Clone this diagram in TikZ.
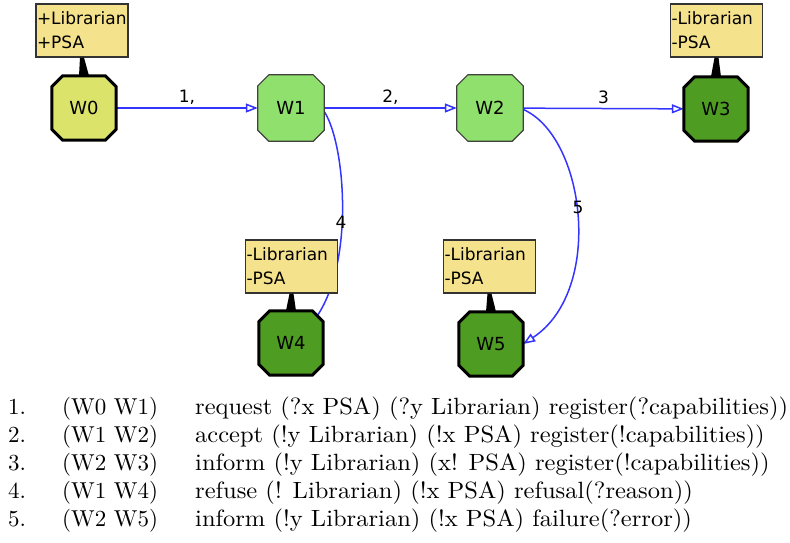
\documentclass[tikz,border=0pt]{standalone}
\usepackage{fontspec}
\newfontfamily\uifont{DejaVu Sans}
\usetikzlibrary{arrows.meta,calc}
\pgfdeclarelayer{edges}
\pgfdeclarelayer{shapes}
\pgfsetlayers{edges,shapes,main}
\definecolor{stateYellow}{HTML}{DCE36A}
\definecolor{stateLight}{HTML}{8FE06C}
\definecolor{stateDark}{HTML}{4E9C22}
\definecolor{roleFill}{HTML}{F5E28C}
\definecolor{edgeBlue}{HTML}{3434FF}
\newcommand\legendtext[1]{\scalebox{2.3}{\fontsize{10}{12}\selectfont #1}}
\newcommand\legenddesc[1]{\scalebox{2.45}[2.35]{\fontsize{10}{12}\selectfont #1}}

\begin{document}
\begin{tikzpicture}[x=1pt,y=-1pt,
  state/.style={rectangle, minimum width=64pt, minimum height=64pt,
    inner sep=0pt, font=\uifont\fontsize{18}{20}\selectfont},
  role/.style={draw=black!80, line width=1.2pt, fill=roleFill,
    minimum height=53pt, inner xsep=1pt, inner ysep=0pt, align=left,
    text width=90pt, font=\uifont\fontsize{17}{24}\selectfont},
  msg/.style={draw=edgeBlue, line width=1.5pt,
    -{Triangle[open, length=12pt, width=9pt]}},
  plain/.style={draw=edgeBlue, line width=1.5pt},
  elabel/.style={font=\uifont\fontsize{17}{18}\selectfont, inner sep=0pt},
  tie/.style={fill=black},
  row/.style={anchor=base west, inner sep=0pt}
]
\useasboundingbox (0,0) rectangle (790,542);

% states (named boxes; their octagonal outline is drawn below)
\node[state] (w0) at (84,108) {W0};
\node[state, minimum size=66pt] (w1) at (291,108) {W1};
\node[state, minimum size=66pt] (w2) at (490,108) {W2};
\node[state] (w3) at (716,109) {W3};
\node[state] (w4) at (291,343) {W4};
\node[state] (w5) at (491,344) {W5};

\begin{pgfonlayer}{shapes}
\foreach \n/\f/\d/\lw in {w0/stateYellow/black/3, w1/stateLight/black!75/1.2,
    w2/stateLight/black!75/1.2, w3/stateDark/black/3, w4/stateDark/black/3,
    w5/stateDark/black/3}{
  \filldraw[fill=\f, draw=\d, line width=\lw pt, line join=miter]
    ($(\n.north west)+(11,0)$) -- ($(\n.north east)+(-11,0)$)
    -- ($(\n.north east)+(0,11)$) -- ($(\n.south east)+(0,-11)$)
    -- ($(\n.south east)+(-11,0)$) -- ($(\n.south west)+(11,0)$)
    -- ($(\n.south west)+(0,-11)$) -- ($(\n.north west)+(0,11)$) -- cycle;
}
\end{pgfonlayer}

% role annotations
\node[role] (r0) at (82,30.5)    {+Librarian\\+PSA};
\node[role] (r3) at (716.5,30.5) {-Librarian\\-PSA};
\node[role] (r4) at (291.5,266.5) {-Librarian\\-PSA};
\node[role] (r5) at (489.5,266.5) {-Librarian\\-PSA};

% ties between annotations and states
\foreach \r/\s in {r0/w0, r3/w3, r4/w4, r5/w5}{
  \fill[tie] ($(\r.south)+(-2,0)$) -- ($(\r.south)+(2,0)$)
    -- ($(\s.north)+(5,0)$) -- ($(\s.north)+(-5,0)$) -- cycle;
}

% transitions
\begin{pgfonlayer}{edges}
  \draw[msg] (w0) -- (w1) node[elabel, midway, above=3pt] (l1) {1,};
  \draw[msg] (w1) -- (w2) node[elabel, midway, above=3pt] (l2) {2,};
  \draw[msg] (w2) -- (w3) node[elabel, midway, above=4pt] (l3) {3};
  \draw[plain] ($(w1.east)+(-1,2)$) .. controls (345,140) and (355,260)
    .. ($(w4.north east)+(-6,5)$);
  \draw[msg] ($(w2.east)+(-1,1)$) .. controls (585,135) and (605,290) .. (w5.east);
\end{pgfonlayer}
\node[elabel] (l4) at (341,222) {4};
\node[elabel] (l5) at (578,207) {5};

% legend
\foreach \y/\a/\b/\c in {
  414/1./(W0 W1)/request (?x PSA) (?y Librarian) register(?capabilities)),
  442/2./(W1 W2)/accept (!y Librarian) (!x PSA) register(!capabilities)),
  470/3./(W2 W3)/inform (!y Librarian) (x! PSA) register(!capabilities)),
  498/4./(W1 W4)/refuse (! Librarian) (!x PSA) refusal(?reason)),
  526/5./(W2 W5)/inform (!y Librarian) (!x PSA) failure(?error))}{
  \node[row] (n\a) at (8,\y) {\legendtext{\a}};
  \node[row] (p\a) at (62,\y) {\legendtext{\b}};
  \node[row] (d\a) at (195,\y) {\legenddesc{\c}};
}
\end{tikzpicture}
\end{document}
